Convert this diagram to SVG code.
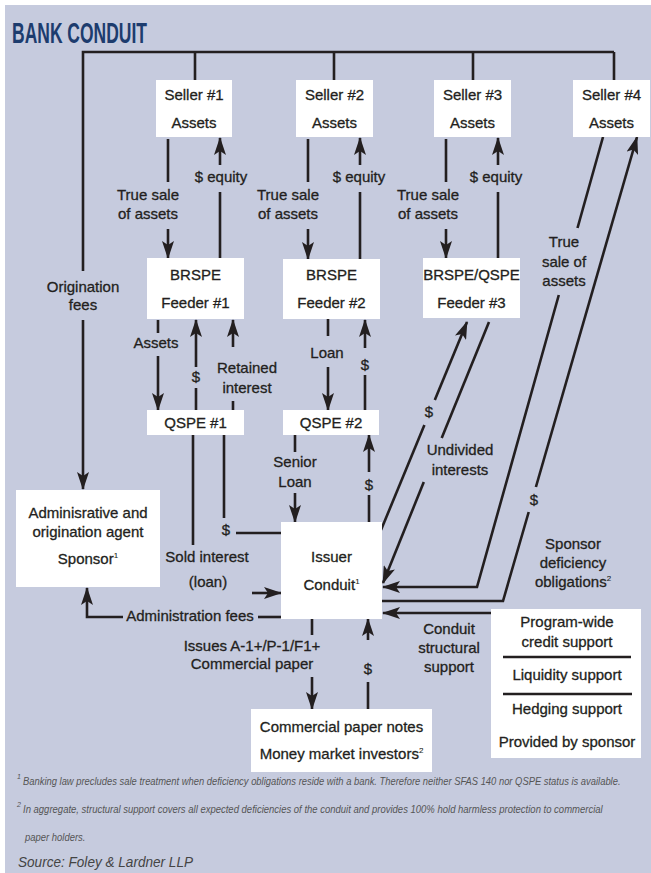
<svg xmlns="http://www.w3.org/2000/svg" width="651" height="873" viewBox="0 0 651 873">
<defs>
<style>
.bg{fill:#C6CBDE}
.box{fill:#FFFFFF}
.ln{stroke:#231F20;stroke-width:2.6;fill:none}
.t{font-family:"Liberation Sans",Arial,sans-serif;font-size:15px;fill:#231F20;text-anchor:middle;stroke:#231F20;stroke-width:0.3}
.sup{font-size:8px;stroke-width:0.1}
.fn{font-family:"Liberation Sans",Arial,sans-serif;font-size:11px;font-style:italic;fill:#555555}
.fns{font-family:"Liberation Sans",Arial,sans-serif;font-size:7px;font-style:italic;fill:#555555}
</style>
<marker id="ah" viewBox="0 0 18 12" markerWidth="18" markerHeight="12" refX="17" refY="6" orient="auto" markerUnits="userSpaceOnUse">
<path d="M0,0 L18,6 L0,12 L4,6 Z" fill="#231F20"/>
</marker>
</defs>
<rect x="0" y="0" width="651" height="873" fill="#FFFFFF"/>
<rect class="bg" x="5" y="5" width="646" height="868"/>
<text x="12" y="43" font-family="'Liberation Sans',Arial,sans-serif" font-size="29" font-weight="bold" fill="#1D3C6E" textLength="135" lengthAdjust="spacingAndGlyphs">BANK CONDUIT</text>

<g id="connectors">
<path class="ln" d="M83,271 V52 H614"/>
<path class="ln" d="M195,52 V80 M334,52 V80 M473,52 V80 M614,52 V80"/>
<path class="ln" d="M83,320 V489" marker-end="url(#ah)"/>
<path class="ln" d="M168,139 V182 M220,192 V258"/>
<path class="ln" d="M168,229 V258" marker-end="url(#ah)"/>
<path class="ln" d="M220,165 V138" marker-end="url(#ah)"/>
<path class="ln" d="M308,139 V182 M360,192 V259"/>
<path class="ln" d="M308,229 V259" marker-end="url(#ah)"/>
<path class="ln" d="M360,165 V138" marker-end="url(#ah)"/>
<path class="ln" d="M446,139 V182 M498,192 V258"/>
<path class="ln" d="M446,229 V258" marker-end="url(#ah)"/>
<path class="ln" d="M498,165 V138" marker-end="url(#ah)"/>
<path class="ln" d="M158,320 V333 M196,410 V388 M233,401 V410"/>
<path class="ln" d="M158,356 V410" marker-end="url(#ah)"/>
<path class="ln" d="M196,367 V320" marker-end="url(#ah)"/>
<path class="ln" d="M233,347 V320" marker-end="url(#ah)"/>
<path class="ln" d="M328,319 V336 M365,410 V375"/>
<path class="ln" d="M328,367 V410" marker-end="url(#ah)"/>
<path class="ln" d="M365,348 V320" marker-end="url(#ah)"/>
<path class="ln" d="M193,435 V545 M224,435 V518 M236,533 H281"/>
<path class="ln" d="M252,593 H281" marker-end="url(#ah)"/>
<path class="ln" d="M295,435 V452 M369,522 V495"/>
<path class="ln" d="M295,493 V522" marker-end="url(#ah)"/>
<path class="ln" d="M369,472 V435" marker-end="url(#ah)"/>
<path class="ln" d="M381,530 L424.4,425"/>
<path class="ln" d="M434.8,400 L467,322" marker-end="url(#ah)"/>
<path class="ln" d="M489,322 L441.7,438"/>
<path class="ln" d="M423.8,482 L383,583" marker-end="url(#ah)"/>
<path class="ln" d="M603,137 L577.5,228"/>
<path class="ln" d="M558.8,295 L477,587 H383" marker-end="url(#ah)"/>
<path class="ln" d="M382,601 H503 L528.7,512"/>
<path class="ln" d="M535.9,487 L637,137" marker-end="url(#ah)"/>
<path class="ln" d="M491,613 H383" marker-end="url(#ah)"/>
<path class="ln" d="M281,617 H258"/>
<path class="ln" d="M123,617 H87 V588" marker-end="url(#ah)"/>
<path class="ln" d="M312,619 V635 M368,709 V682"/>
<path class="ln" d="M312,677 V709" marker-end="url(#ah)"/>
<path class="ln" d="M368,640 V619" marker-end="url(#ah)"/>
</g>

<g id="labels">
<text class="t" x="83" y="292">Origination</text>
<text class="t" x="83" y="310">fees</text>
<text class="t" x="148" y="200">True sale</text>
<text class="t" x="148" y="219">of assets</text>
<text class="t" x="221" y="182">$ equity</text>
<text class="t" x="288" y="200">True sale</text>
<text class="t" x="288" y="219">of assets</text>
<text class="t" x="359" y="182">$ equity</text>
<text class="t" x="428" y="200">True sale</text>
<text class="t" x="428" y="219">of assets</text>
<text class="t" x="496" y="182">$ equity</text>
<text class="t" x="564" y="247">True</text>
<text class="t" x="564" y="267">sale of</text>
<text class="t" x="564" y="286">assets</text>
<text class="t" x="156" y="348">Assets</text>
<text class="t" x="196" y="382">$</text>
<text class="t" x="247" y="373">Retained</text>
<text class="t" x="247" y="393">interest</text>
<text class="t" x="327" y="358">Loan</text>
<text class="t" x="365" y="370">$</text>
<text class="t" x="295" y="467">Senior</text>
<text class="t" x="295" y="487">Loan</text>
<text class="t" x="369" y="490">$</text>
<text class="t" x="429" y="417">$</text>
<text class="t" x="460" y="455">Undivided</text>
<text class="t" x="460" y="475">interests</text>
<text class="t" x="534" y="505">$</text>
<text class="t" x="226" y="535">$</text>
<text class="t" x="207" y="562">Sold interest</text>
<text class="t" x="208" y="587">(loan)</text>
<text class="t" x="573" y="549">Sponsor</text>
<text class="t" x="573" y="568">deficiency</text>
<text class="t" x="573" y="587">obligations<tspan class="sup" dy="-6">2</tspan></text>
<text class="t" x="190" y="621">Administration fees</text>
<text class="t" x="449" y="634">Conduit</text>
<text class="t" x="449" y="653">structural</text>
<text class="t" x="449" y="672">support</text>
<text class="t" x="252" y="651">Issues A-1+/P-1/F1+</text>
<text class="t" x="252" y="669">Commercial paper</text>
<text class="t" x="368" y="674">$</text>
</g>

<g id="seller1">
<rect class="box" x="156" y="80" width="76" height="57"/>
<text class="t" x="194" y="100">Seller #1</text>
<text class="t" x="194" y="128">Assets</text>
</g>
<g id="seller2">
<rect class="box" x="296" y="80" width="77" height="57"/>
<text class="t" x="334.5" y="100">Seller #2</text>
<text class="t" x="334.5" y="128">Assets</text>
</g>
<g id="seller3">
<rect class="box" x="434" y="80" width="77" height="57"/>
<text class="t" x="472.5" y="100">Seller #3</text>
<text class="t" x="472.5" y="128">Assets</text>
</g>
<g id="seller4">
<rect class="box" x="573" y="80" width="77" height="57"/>
<text class="t" x="611.5" y="100">Seller #4</text>
<text class="t" x="611.5" y="128">Assets</text>
</g>
<g id="feeder1">
<rect class="box" x="147" y="258" width="97" height="61"/>
<text class="t" x="195.5" y="280">BRSPE</text>
<text class="t" x="195.5" y="308">Feeder #1</text>
</g>
<g id="feeder2">
<rect class="box" x="283" y="259" width="97" height="60"/>
<text class="t" x="331.5" y="280">BRSPE</text>
<text class="t" x="331.5" y="308">Feeder #2</text>
</g>
<g id="feeder3">
<rect class="box" x="423" y="258" width="97" height="60"/>
<text class="t" x="471.5" y="280">BRSPE/QSPE</text>
<text class="t" x="471.5" y="308">Feeder #3</text>
</g>
<g id="qspe1">
<rect class="box" x="147" y="410" width="97" height="25"/>
<text class="t" x="195.5" y="428">QSPE #1</text>
</g>
<g id="qspe2">
<rect class="box" x="283" y="410" width="96" height="25"/>
<text class="t" x="331" y="428">QSPE #2</text>
</g>
<g id="issuer">
<rect class="box" x="281" y="522" width="101" height="97"/>
<text class="t" x="331.5" y="562">Issuer</text>
<text class="t" x="331.5" y="590">Conduit<tspan class="sup" dy="-6">1</tspan></text>
</g>
<g id="sponsor">
<rect class="box" x="16" y="490" width="144" height="97"/>
<text class="t" x="88" y="518">Adminisrative and</text>
<text class="t" x="88" y="537">origination agent</text>
<text class="t" x="88" y="564">Sponsor<tspan class="sup" dy="-6">1</tspan></text>
</g>
<g id="cp">
<rect class="box" x="251" y="709" width="181" height="63"/>
<text class="t" x="341.5" y="732">Commercial paper notes</text>
<text class="t" x="341.5" y="759">Money market investors<tspan class="sup" dy="-6">2</tspan></text>
</g>
<g id="support">
<rect class="box" x="491" y="609" width="150" height="149"/>
<text class="t" x="567" y="627">Program-wide</text>
<text class="t" x="567" y="647">credit support</text>
<line class="ln" x1="503" y1="657" x2="631" y2="657"/>
<text class="t" x="567" y="680">Liquidity support</text>
<line class="ln" x1="503" y1="694" x2="632" y2="694"/>
<text class="t" x="567" y="714">Hedging support</text>
<text class="t" x="567" y="747">Provided by sponsor</text>
</g>

<g id="footnotes">
<text class="fns" x="17" y="779">1</text>
<text class="fn" transform="translate(23,785) scale(0.855,1)">Banking law precludes sale treatment when deficiency obligations reside with a bank. Therefore neither SFAS 140 nor QSPE status is available.</text>
<text class="fns" x="17" y="807">2</text>
<text class="fn" transform="translate(23,813) scale(0.865,1)">In aggregate, structural support covers all expected deficiencies of the conduit and provides 100% hold harmless protection to commercial</text>
<text class="fn" transform="translate(25,841) scale(0.86,1)">paper holders.</text>
<text font-family="'Liberation Sans',Arial,sans-serif" font-size="14" font-style="italic" fill="#444444" transform="translate(18,867) scale(0.97,1)">Source: Foley &amp; Lardner LLP</text>
</g>
</svg>
